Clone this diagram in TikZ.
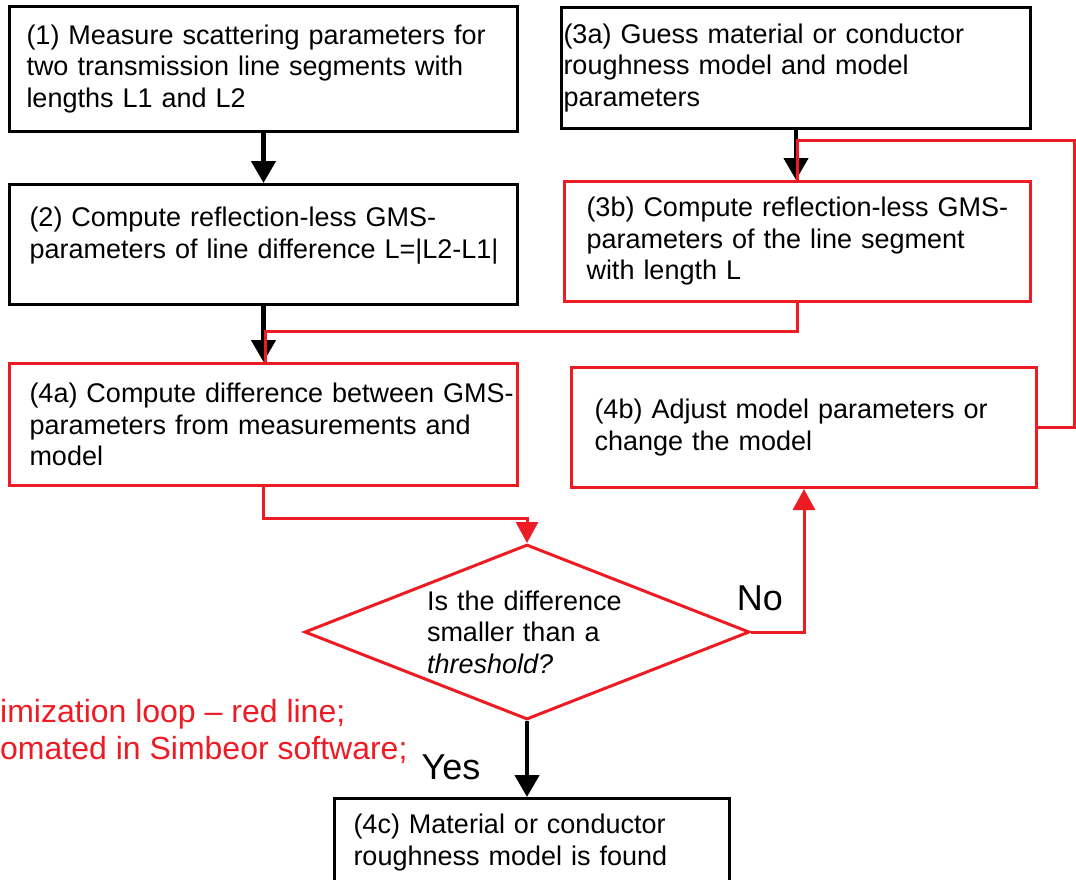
\documentclass[tikz,border=0pt]{standalone}
\usepackage{fontspec}
\setmainfont{Liberation Sans}
\usetikzlibrary{arrows.meta}
\usetikzlibrary{shapes.geometric}

\definecolor{loopred}{RGB}{237,28,36}

\tikzset{
    stepbox/.style={draw, line width=3pt, rectangle, anchor=north west, align=left, inner ysep=0pt, font=\fontsize{27}{31.5}\selectfont},
    flow/.style={line width=4.5pt, -{Triangle[width=24pt,length=22pt]}},
    redline/.style={loopred, line width=3pt},
    redarrow/.style={redline, -{Triangle[width=22pt,length=21pt]}},
    answer/.style={font=\fontsize{36}{40}\selectfont, inner sep=0pt}
}

\begin{document}
\begin{tikzpicture}[x=1pt, y=-1pt]
    \useasboundingbox (0,0) rectangle (1076,879);

    \node [stepbox, text width=474pt, inner xsep=17pt, minimum height=125pt] (measure) at (8,5) {(1) Measure scattering parameters for\\two transmission line segments with\\lengths L1 and L2};
    \node [stepbox, text width=465pt, inner xsep=2pt, minimum height=121pt] (guess) at (560,6) {(3a) Guess material or conductor\\roughness model and model\\parameters};
    \node [stepbox, text width=468pt, inner xsep=20pt, minimum height=120pt] (compute) at (8,183) {(2) Compute reflection-less GMS-\\\mbox{parameters of line difference L=|L2-L1|}\\[-8pt]\mbox{}};
    \node [stepbox, draw=loopred, text width=422pt, inner xsep=22pt, minimum height=120pt] (modelgms) at (563,180) {(3b) Compute reflection-less GMS-\\parameters of the line segment\\with length L};
    \node [stepbox, draw=loopred, text width=468pt, inner xsep=20pt, minimum height=122pt] (diff) at (8,362) {\mbox{(4a) Compute difference between GMS-}\\parameters from measurements and\\model};
    \node [stepbox, draw=loopred, text width=419pt, inner xsep=23pt, minimum height=120pt] (adjust) at (570,366) {(4b) Adjust model parameters or\\change the model};
    \node [draw=loopred, line width=3pt, diamond, aspect=2.54, minimum width=445pt, minimum height=175pt, inner sep=0pt, text width=200pt, align=left, font=\fontsize{27}{31.5}\selectfont] (check) at (527,632) {Is the difference\\smaller than a\\\textit{threshold?}};
    \node [stepbox, text width=357pt, inner xsep=19pt, minimum height=88pt] (found) at (333,797) {(4c) Material or conductor\\roughness model is found};

    \node [answer] (no) at (760,598) {No};
    \node [answer] (yes) at (451,767) {Yes};
    \node [loopred, anchor=north west, align=left, inner sep=0pt, font=\fontsize{32}{37}\selectfont] (note) at (0,699) {imization loop – red line;\\omated in Simbeor software;};

    \coordinate (toploop) at (1074,140);
    \coordinate (midjoin) at (265,331);

    \draw [flow] (measure) -- (compute);
    \draw [flow] (guess.south) -- (guess.south |- modelgms.north);
    \draw [flow] (compute) -- (diff);
    \draw [flow] (check.south) -- (check.south |- found.north);

    \draw [redline] (adjust.east) -| (toploop) -| (modelgms.north);
    \draw [redline] (modelgms.south) |- (midjoin) -- (midjoin |- diff.north);
    \draw [redarrow] (diff.south) -- ++(0,31) -| (check.north);
    \draw [redarrow] (check.east) -| (adjust.south);
\end{tikzpicture}
\end{document}
